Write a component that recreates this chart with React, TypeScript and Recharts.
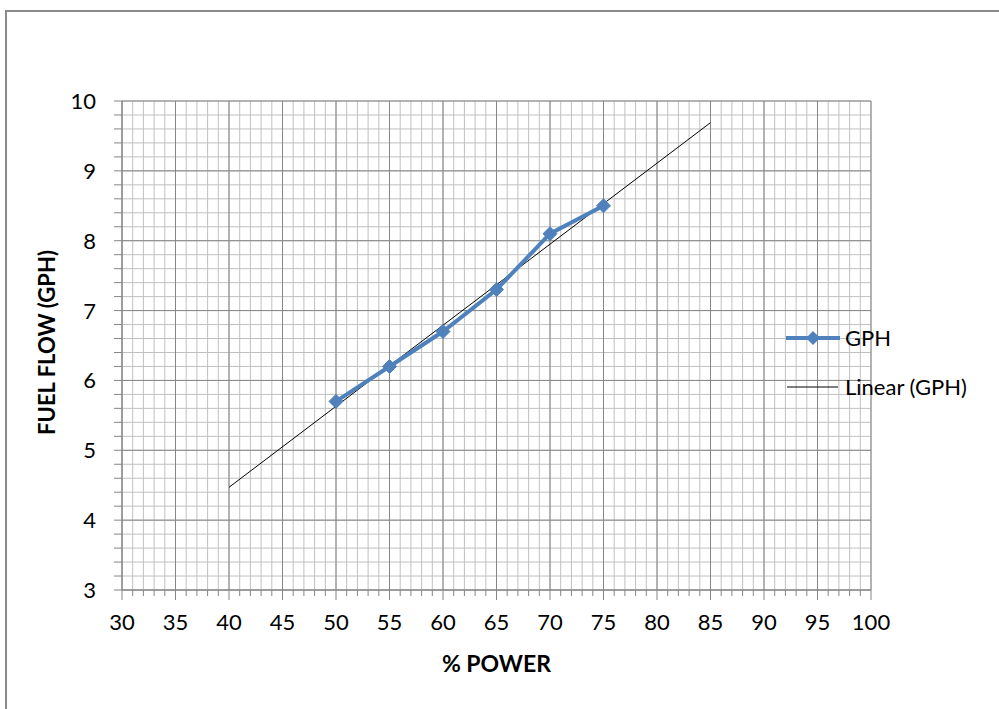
import React from "react";
import {
  ComposedChart,
  Line,
  XAxis,
  YAxis,
  CartesianGrid,
  ReferenceLine,
  Label,
} from "recharts";

// % power vs fuel flow readings
const powerPct = [50, 55, 60, 65, 70, 75];
const gph = [5.7, 6.2, 6.7, 7.3, 8.1, 8.5];

// linear trend line at its two ends
const trendPower = [40, 85];
const trendGph = [4.47, 9.69];

const xMajorTicks = [30, 35, 40, 45, 50, 55, 60, 65, 70, 75, 80, 85, 90, 95, 100];
const yMajorTicks = [3, 4, 5, 6, 7, 8, 9, 10];

const xMinorTicks: number[] = [];
for (let v = 30; v <= 100; v++) xMinorTicks.push(v);
const yMinorTicks: number[] = [];
for (let i = 0; i <= 35; i++) yMinorTicks.push(Math.round((3 + i * 0.2) * 10) / 10);

const gphData = powerPct.map((x, i) => ({ x, y: gph[i] }));
const trendData = trendPower.map((x, i) => ({ x, y: trendGph[i] }));

const FONT = "Lato, 'Open Sans', sans-serif";
const BLUE = "#4f81bd";

const isMajor = (v: number, step: number) =>
  Math.abs(v / step - Math.round(v / step)) < 1e-6;

const XTick = (props: any) => {
  const { x, y, payload } = props;
  const major = isMajor(payload.value, 5);
  return (
    <g>
      <line x1={x} x2={x} y1={y} y2={y + (major ? 10 : 6)} stroke="#868686" />
      {major && (
        <text x={x} y={y + 40} textAnchor="middle" fontSize={22} fill="#000" fontFamily={FONT}>
          {payload.value}
        </text>
      )}
    </g>
  );
};

const YTick = (props: any) => {
  const { x, y, payload } = props;
  const major = isMajor(payload.value, 1);
  return (
    <g>
      <line x1={x - 8} x2={x} y1={y} y2={y} stroke="#868686" />
      {major && (
        <text x={x - 26} y={y + 8} textAnchor="end" fontSize={22} fill="#000" fontFamily={FONT}>
          {payload.value}
        </text>
      )}
    </g>
  );
};

const Diamond = (props: any) => {
  const { cx, cy } = props;
  if (cx == null || cy == null) return null;
  const r = 7;
  return (
    <polygon
      points={`${cx},${cy - r} ${cx + r},${cy} ${cx},${cy + r} ${cx - r},${cy}`}
      fill={BLUE}
      stroke={BLUE}
    />
  );
};

const LegendBox = () => (
  <svg width={220} height={90} style={{ overflow: "visible", display: "block" }}>
    <line x1={6} x2={60} y1={15} y2={15} stroke={BLUE} strokeWidth={4} />
    <polygon points="33,8 40,15 33,22 26,15" fill={BLUE} />
    <text x={65} y={23} fontSize={22} fontFamily={FONT} fill="#000">GPH</text>
    <line x1={7} x2={58} y1={64} y2={64} stroke="#000" strokeWidth={1} />
    <text x={65} y={72} fontSize={22} fontFamily={FONT} fill="#000">Linear (GPH)</text>
  </svg>
);

export default function App() {
  return (
    <div
      style={{
        position: "absolute",
        left: 0,
        top: 0,
        width: 999,
        height: 709,
        overflow: "hidden",
        background: "#fff",
      }}
    >
      <div
        style={{
          position: "absolute",
          left: 5,
          top: 10,
          width: 1100,
          height: 800,
          border: "2px solid #8a8a8a",
          boxSizing: "border-box",
        }}
      />
      <div style={{ position: "absolute", left: 0, top: 0 }}>
        <ComposedChart
          width={999}
          height={709}
          margin={{ top: 101, right: 128, bottom: 59, left: 62 }}
        >
          <CartesianGrid stroke="#c0c0c0" strokeWidth={1} />
          {xMajorTicks.map((v) => (
            <ReferenceLine key={`vx${v}`} x={v} stroke="#868686" />
          ))}
          {yMajorTicks.map((v) => (
            <ReferenceLine key={`hy${v}`} y={v} stroke="#868686" />
          ))}
          <XAxis
            type="number"
            dataKey="x"
            domain={[30, 100]}
            ticks={xMinorTicks}
            interval={0}
            height={60}
            tickSize={0}
            tickMargin={0}
            tickLine={false}
            tick={<XTick />}
            stroke="#868686"
          >
            <Label
              content={({ viewBox }: any) => (
                <text
                  x={viewBox.x + viewBox.width / 2}
                  y={viewBox.y + 82}
                  textAnchor="middle"
                  fontSize={23}
                  fontWeight="bold"
                  fontFamily={FONT}
                  fill="#000"
                >
                  % POWER
                </text>
              )}
            />
          </XAxis>
          <YAxis
            type="number"
            domain={[3, 10]}
            ticks={yMinorTicks}
            interval={0}
            width={60}
            tickSize={0}
            tickMargin={0}
            tickLine={false}
            tick={<YTick />}
            stroke="#868686"
          >
            <Label
              content={({ viewBox }: any) => {
                const cy = viewBox.y + viewBox.height / 2 - 3;
                return (
                  <text
                    x={55}
                    y={cy}
                    transform={`rotate(-90 55 ${cy})`}
                    textAnchor="middle"
                    fontSize={22}
                    fontWeight="bold"
                    fontFamily={FONT}
                    fill="#000"
                  >
                    FUEL FLOW (GPH)
                  </text>
                );
              }}
            />
          </YAxis>
          <Line
            data={trendData}
            dataKey="y"
            name="Linear (GPH)"
            stroke="#000"
            strokeWidth={1}
            dot={false}
            isAnimationActive={false}
          />
          <Line
            data={gphData}
            dataKey="y"
            name="GPH"
            stroke={BLUE}
            strokeWidth={4}
            dot={<Diamond />}
            isAnimationActive={false}
          />
        </ComposedChart>
      </div>
      <div style={{ position: "absolute", left: 780, top: 323 }}>
        <LegendBox />
      </div>
    </div>
  );
}
